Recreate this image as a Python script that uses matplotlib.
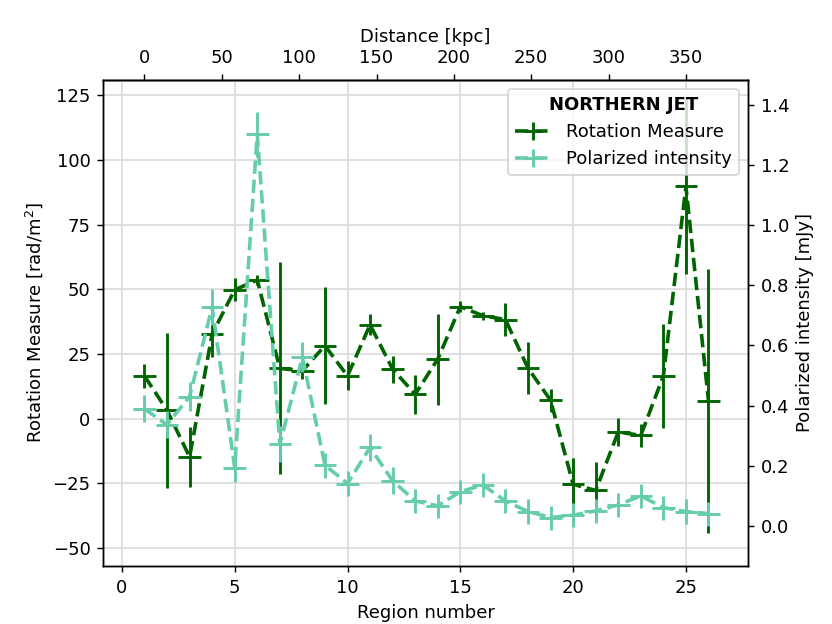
import numpy as np
import matplotlib
matplotlib.use("Agg")
import matplotlib.pyplot as plt

# Region numbers along the northern jet
region = np.arange(1, 27)

# Rotation measure [rad/m^2] and its error
rm = [16.5, 3.2, -14.8, 32.7, 49.8, 53.6, 19.4, 18.5, 28.2, 16.5, 36.3, 19.1, 9.4,
      23.0, 43.3, 39.8, 38.3, 19.5, 7.1, -25.4, -27.8, -5.2, -6.5, 16.5, 89.8, 6.9]
rm_err = [4.5, 30.0, 11.7, 9.0, 4.5, 2.0, 41.0, 3.0, 22.5, 5.6, 4.0, 5.2, 7.6,
          17.6, 2.0, 1.5, 6.5, 10.0, 4.5, 10.0, 11.0, 5.3, 4.3, 20.0, 34.0, 51.0]

# Polarized intensity [mJy] and its error
pi = [0.389, 0.337, 0.43, 0.728, 0.194, 1.302, 0.272, 0.561, 0.202, 0.141, 0.261,
      0.15, 0.083, 0.067, 0.114, 0.136, 0.083, 0.048, 0.028, 0.036, 0.05, 0.07,
      0.1, 0.061, 0.048, 0.041]
pi_err = [0.045, 0.045, 0.047, 0.06, 0.047, 0.075, 0.06, 0.05, 0.042, 0.042, 0.045,
          0.045, 0.04, 0.04, 0.04, 0.04, 0.04, 0.04, 0.04, 0.04, 0.04, 0.04,
          0.04, 0.04, 0.04, 0.04]

# kpc per region (region 1 sits at 0 kpc)
kpc_per_region = 350.0 / 24.0
dist_ticks = [0, 50, 100, 150, 200, 250, 300, 350]


def reg2kpc(r):
    return (np.asarray(r) - 1.0) * kpc_per_region


def kpc2reg(d):
    return np.asarray(d) / kpc_per_region + 1.0


fig, ax1 = plt.subplots(figsize=(6.4, 4.8), dpi=130)
fig.subplots_adjust(left=0.124, right=0.899, bottom=0.093, top=0.872)

# Rotation measure on the left axis
h1 = ax1.errorbar(region, rm, yerr=rm_err, xerr=0.5, fmt="--", color="darkgreen",
                  lw=2, elinewidth=1.6, label="Rotation Measure")
ax1.set_xlabel("Region number")
ax1.set_ylabel("Rotation Measure [rad/m$^2$]")
ax1.set_ylim(-57, 131)
ax1.set_yticks(np.arange(-50, 126, 25))
ax1.grid(True, color="#dddddd", lw=1)
ax1.set_axisbelow(True)

# Polarized intensity on the right axis
ax2 = ax1.twinx()
h2 = ax2.errorbar(region, pi, yerr=pi_err, xerr=0.5, fmt="--", color="#66cdaa",
                  lw=2, elinewidth=1.6, label="Polarized intensity")
ax2.set_ylabel("Polarized intensity [mJy]")
ax2.set_ylim(-0.133, 1.483)
ax2.set_yticks(np.arange(0, 1.41, 0.2))

ax1.set_xlim(-0.83, 27.75)

# Distance on the top axis
top = ax1.secondary_xaxis("top", functions=(reg2kpc, kpc2reg))
top.set_xticks(dist_ticks)
top.set_xlabel("Distance [kpc]")

leg = ax2.legend([h1, h2], ["Rotation Measure", "Polarized intensity"],
                 loc="upper right", title="NORTHERN JET")
leg.get_title().set_fontweight("bold")

fig.savefig("out.png", dpi=130)
